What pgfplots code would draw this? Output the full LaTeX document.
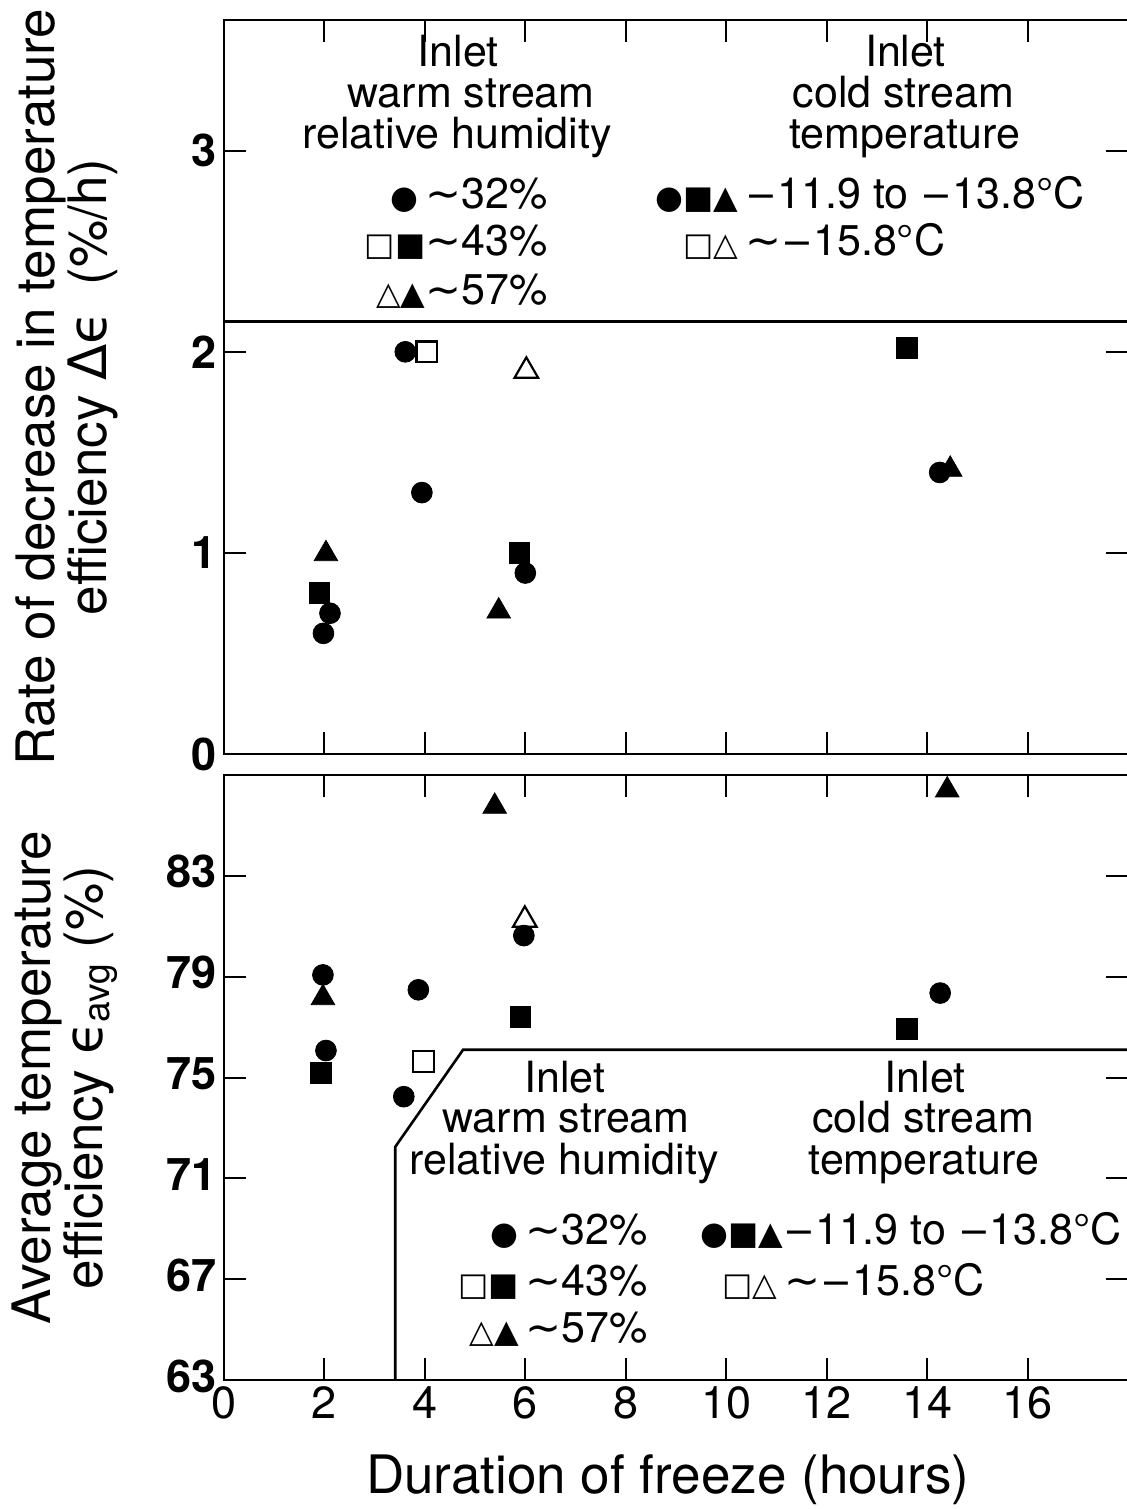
\documentclass[border=0pt]{standalone}
\usepackage{fontspec}
\setmainfont{TeX Gyre Heros}
\newfontfamily\sym{DejaVu Sans}
\usepackage{pgfplots}
\pgfplotsset{compat=1.18}

\pgfplotsset{
  panel/.style={
    scale only axis, width=452pt, xmin=0, xmax=18,
    xtick={0,2,...,16}, tick align=inside, major tick length=11pt,
    axis line style={line width=1.2pt}, every tick/.style={line width=1pt, black},
    ticklabel style={font=\fontsize{22.5}{22}\selectfont},
    yticklabel style={font=\fontsize{22.5}{22}\selectfont\bfseries},
    /pgf/number format/assume math mode=true,
    label style={font=\fontsize{26.5}{26}\selectfont, align=center, inner sep=0pt},
    ylabel style={at={(axis description cs:-0.117,0.5)}, anchor=south},
    clip=false,
  },
  fc/.style={only marks, mark=*, mark size=5.2pt, black},
  fs/.style={only marks, mark=square*, mark size=5.2pt, black},
  ft/.style={only marks, mark=triangle*, mark size=6.8pt, black},
  os/.style={only marks, mark=square, mark size=5.2pt, black, mark options={fill=white, line width=1.1pt}},
  ot/.style={only marks, mark=triangle, mark size=6.8pt, black, mark options={fill=white, line width=1.1pt}},
}
\tikzset{leg/.style={font=\fontsize{21.5}{21}\selectfont, inner sep=0pt}}
\newcommand{\s}[1]{{\sym\fontsize{16}{16}\selectfont #1}}
\newcommand{\tl}{{\sym ∼}}
\newcommand{\mi}{{\sym\fontsize{19}{19}\selectfont −}}

\begin{document}
\begin{tikzpicture}
% upper panel: rate of decrease
\begin{axis}[panel, at={(0,0)}, anchor=north west, height=367pt,
  ymin=0, ymax=3.65, ytick={0,1,2,3}, xticklabels={},
  ylabel={Rate of decrease in temperature\\efficiency {\sym Δϵ}\enspace(\%/h)}]
\addplot[fc] coordinates {(1.98,0.60) (2.11,0.70) (3.61,2.0) (3.94,1.30) (6.0,0.90) (14.25,1.40)};
\addplot[fs] coordinates {(1.90,0.80) (5.88,1.0) (13.6,2.02)};
\addplot[ft] coordinates {(2.03,0.995) (5.47,0.71) (14.46,1.415)};
\addplot[os] coordinates {(4.04,2.0)};
\addplot[ot] coordinates {(6.02,1.905)};
\draw[line width=1.3pt] (axis cs:0,2.15) -- (axis cs:18,2.15);
\node[leg, anchor=base] at (axis cs:4.66,3.42) {Inlet};
\node[leg, anchor=base] at (axis cs:4.92,3.215) {warm stream};
\node[leg, anchor=base] at (axis cs:4.64,3.01) {relative humidity};
\node[leg, anchor=base] at (axis cs:13.57,3.42) {Inlet};
\node[leg, anchor=base] at (axis cs:13.53,3.215) {cold stream};
\node[leg, anchor=base] at (axis cs:13.55,3.01) {temperature};
\node[leg, anchor=base east] at (axis cs:6.45,2.715) {\s{●}\,\tl32\%};
\node[leg, anchor=base east] at (axis cs:6.45,2.48) {\s{□■}\tl43\%};
\node[leg, anchor=base east] at (axis cs:6.45,2.235) {\s{△▲}\tl57\%};
\node[leg, anchor=base west] at (axis cs:8.59,2.715) {\s{●■▲}\,\mi11.9 to \mi13.8°C};
\node[leg, anchor=base west] at (axis cs:9.14,2.48) {\s{□△}\,\tl\mi15.8°C};
\end{axis}
% lower panel: average efficiency
\begin{axis}[panel, at={(0,-377.5pt)}, anchor=north west, height=302.5pt,
  ymin=63, ymax=87, ytick={63,67,...,83},
  yticklabel style={yshift=2pt},
  xlabel={Duration of freeze (hours)},
  xlabel style={at={(axis description cs:0.491,0)}, anchor=north, yshift=-37pt},
  ylabel={Average temperature\\efficiency {\sym ϵ}\textsubscript{avg} (\%)}]
\addplot[fc] coordinates {(1.97,79.07) (2.03,76.07) (3.87,78.48) (3.58,74.24) (5.97,80.63) (14.26,78.35)};
\addplot[fs] coordinates {(1.93,75.17) (5.90,77.42) (13.6,76.92)};
\addplot[ft] coordinates {(1.97,78.16) (5.39,85.75) (14.40,86.4)};
\addplot[os] coordinates {(3.97,75.63)};
\addplot[ot] coordinates {(5.99,81.25)};
\draw[line width=1.3pt] (axis cs:3.41,63) -- (axis cs:3.41,72.25) -- (axis cs:4.76,76.1) -- (axis cs:18,76.1);
\node[leg, anchor=base] at (axis cs:6.79,74.39) {Inlet};
\node[leg, anchor=base] at (axis cs:6.81,72.80) {warm stream};
\node[leg, anchor=base] at (axis cs:6.77,71.17) {relative humidity};
\node[leg, anchor=base] at (axis cs:13.96,74.39) {Inlet};
\node[leg, anchor=base] at (axis cs:13.92,72.80) {cold stream};
\node[leg, anchor=base] at (axis cs:13.94,71.17) {temperature};
\node[leg, anchor=base east] at (axis cs:8.45,68.36) {\s{●}\,\tl32\%};
\node[leg, anchor=base east] at (axis cs:8.45,66.37) {\s{□■}\,\tl43\%};
\node[leg, anchor=base east] at (axis cs:8.45,64.47) {\s{△▲}\,\tl57\%};
\node[leg, anchor=base west] at (axis cs:9.48,68.36) {\s{●■▲}\mi11.9 to \mi13.8°C};
\node[leg, anchor=base west] at (axis cs:9.92,66.37) {\s{□△}\,\tl\mi15.8°C};
\end{axis}
\pgfresetboundingbox
\useasboundingbox (-112pt,10pt) rectangle (451.2pt,-744.5pt);
\end{tikzpicture}
\end{document}
